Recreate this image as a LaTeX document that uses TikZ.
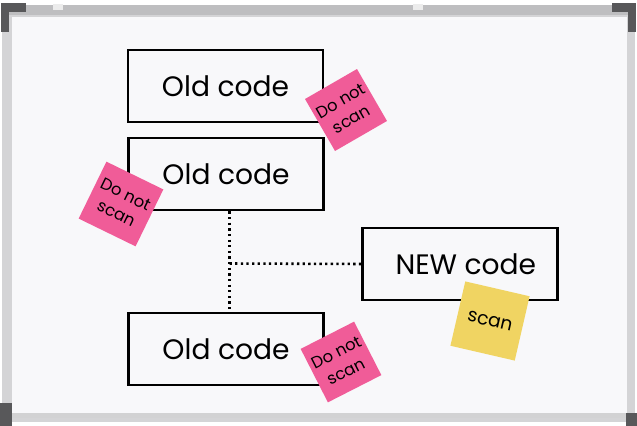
\documentclass[tikz,border=0pt]{standalone}
\usepackage{fontspec}
\setmainfont{Poppins}
\usepackage{xcolor}
\definecolor{boardwhite}{RGB}{248,248,250}
\definecolor{framegray}{RGB}{212,212,214}
\definecolor{railgray}{RGB}{190,190,192}
\definecolor{cornergray}{RGB}{88,88,90}
\definecolor{notepink}{RGB}{240,92,152}
\definecolor{noteyellow}{RGB}{240,212,98}
\usetikzlibrary{positioning,calc}

\begin{document}
\begin{tikzpicture}[
  x=0.03cm, y=-0.03cm,
  every node/.style={font=\fontsize{24}{27}\selectfont},
  codebox/.style={draw,line width=2.4pt,fill=boardwhite,minimum width=5.85cm,minimum height=2.16cm,inner sep=0pt},
  sticky/.style={fill=notepink,minimum size=1.8cm,inner sep=2pt,align=center,
                 font=\fontsize{14}{18}\selectfont},
  link/.style={line width=2.2pt,dash pattern=on 2pt off 2.8pt},
]
  \useasboundingbox (0,0) rectangle (637,426);
  % Board frame
  \fill[framegray] (2,5) rectangle (635,422);
  \fill[railgray] (2,5) rectangle (635,15);
  \fill[boardwhite] (12,17) rectangle (627,413);
  \fill[railgray!70] (12,413) rectangle (627,418);
  \fill[white!85!gray] (53,4) rectangle (63,10);
  \fill[white!85!gray] (413,4) rectangle (423,10);
  % Corners
  \fill[cornergray] (1,3) rectangle (26,12);
  \fill[cornergray] (1,3) rectangle (9,32);
  \fill[cornergray] (612,3) rectangle (636,12);
  \fill[cornergray] (628,3) rectangle (636,32);
  \fill[cornergray] (0,403) rectangle (12,426);
  \fill[cornergray] (626,413) rectangle (637,426);

  % Boxes
  \node[codebox] (old1) at (225.5,86) {Old code};
  \node[codebox] (old2) at (226,174) {Old code};
  \node[codebox] (old3) at (226,349) {Old code};
  \node[codebox] (new) at (460,264) {\hspace{10pt}NEW code};

  % Dotted links
  \coordinate (junc) at ($(old2.south)!0.52!(old3.north)$);
  \draw[link] ([xshift=3pt]old2.south) -- ([xshift=3pt]old3.north);
  \draw[link] ([xshift=3pt]junc) -- (new.west);

  % Sticky notes
  \node[sticky,rotate=30] (note1) at (346,110) {Do not\\scan};
  \node[sticky,rotate=-26,minimum size=1.9cm] (note2) at (121,204) {Do not\\scan};
  \node[sticky,rotate=27] (note3) at (341,362) {Do not\\scan};
  \node[sticky,rotate=-13,fill=noteyellow,minimum size=1.98cm,
        font=\fontsize{16}{18}\selectfont] (note4) at (490,321) {scan};
\end{tikzpicture}
\end{document}
